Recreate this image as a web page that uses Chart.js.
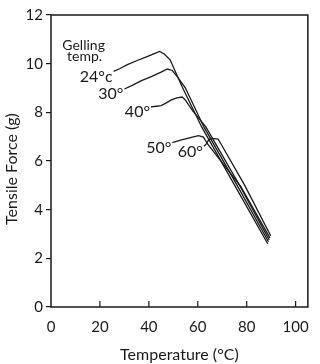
<!DOCTYPE html>
<html>
<head>
<meta charset="utf-8">
<script src="https://cdn.jsdelivr.net/npm/chart.js@4"></script>
<style>
  html, body { margin: 0; padding: 0; background: #fff; }
  #wrap { width: 320px; height: 364px; position: relative; }
</style>
</head>
<body>
<div id="wrap"><canvas id="c"></canvas></div>
<script>
// ---- data ----
const seriesLabels = ['24°c', '30°', '40°', '50°', '60°'];
const temp24  = [25.6, 28, 31, 35, 39, 42, 44.4, 46.3, 48.7, 53.6, 61.6, 75.1, 88.6];
const force24 = [9.68, 9.79, 9.95, 10.12, 10.28, 10.4, 10.5, 10.4, 10.16, 9.05, 7.4, 5.0, 2.6];
const temp30  = [30, 33, 37, 41, 45, 47.6, 49.6, 51.6, 54.9, 62.5, 76.1, 88.9];
const force30 = [8.96, 9.1, 9.3, 9.47, 9.65, 9.78, 9.72, 9.47, 9.01, 7.4, 5.0, 2.68];
const temp40  = [40.9, 43, 45, 47, 49, 51.5, 53.6, 54.7, 58, 63.3, 77.1, 89.2];
const force40 = [8.22, 8.25, 8.28, 8.38, 8.5, 8.59, 8.63, 8.53, 8.05, 7.4, 5.0, 2.76];
const temp50  = [49.6, 53, 57, 60.3, 62.3, 64, 77.6, 89.5];
const force50 = [6.76, 6.86, 6.96, 7.04, 6.98, 6.7, 4.95, 2.84];
const temp60  = [62.5, 63.5, 64.5, 65.5, 68.3, 69.5, 79.2, 89.8];
const force60 = [6.6, 6.7, 6.88, 6.93, 6.9, 6.7, 5.0, 2.93];
const xTickValues = [0, 20, 40, 60, 80, 100];
const yTickValues = [0, 2, 4, 6, 8, 10, 12];
const noteLines = ['Gelling', 'temp.'];
const xTitle = 'Temperature (°C)';
const yTitle = 'Tensile Force (g)';

const temps = [temp24, temp30, temp40, temp50, temp60];
const forces = [force24, force30, force40, force50, force60];

const FONT = 'Lato, "DejaVu Sans", sans-serif';
const INK = '#1a1a1a';

const datasets = seriesLabels.map((lab, i) => ({
  label: lab,
  data: temps[i].map((t, k) => ({ x: t, y: forces[i][k] })),
  borderColor: INK,
  borderWidth: 1.3,
  pointRadius: 0,
  fill: false,
  tension: 0
}));

const framePlugin = {
  id: 'frame',
  afterDatasetsDraw(chart) {
    const ctx = chart.ctx;
    const a = chart.chartArea;
    const xs = chart.scales.x;
    ctx.save();
    ctx.strokeStyle = INK;
    ctx.lineWidth = 1.5;
    ctx.strokeRect(a.left, a.top, a.right - a.left, a.bottom - a.top);
    // inward x ticks
    ctx.lineWidth = 1.2;
    xs.ticks.forEach(t => {
      if (t.value === xs.min) return;
      const px = xs.getPixelForValue(t.value);
      ctx.beginPath();
      ctx.moveTo(px, a.bottom);
      ctx.lineTo(px, a.bottom - 6);
      ctx.stroke();
    });
    // series labels next to the start of each curve
    ctx.fillStyle = INK;
    ctx.textBaseline = 'middle';
    ctx.textAlign = 'right';
    ctx.font = '16px ' + FONT;
    chart.data.datasets.forEach((ds, i) => {
      const p = chart.getDatasetMeta(i).data[0];
      ctx.fillText(ds.label, p.x - 1, p.y + 5);
    });
    // "Gelling temp." note above the 24° label
    const p0 = chart.getDatasetMeta(0).data[0];
    ctx.textAlign = 'center';
    ctx.font = '14px ' + FONT;
    ctx.fillText(noteLines[0], p0.x - 30, p0.y - 26);
    ctx.fillText(noteLines[1], p0.x - 29, p0.y - 15);
    // y axis title (sits a little below the axis centre in the reference)
    ctx.font = '16px ' + FONT;
    ctx.translate(12, (a.top + a.bottom) / 2 + 8);
    ctx.rotate(-Math.PI / 2);
    ctx.textAlign = 'center';
    ctx.textBaseline = 'middle';
    ctx.fillText(yTitle, 0, 0);
    ctx.restore();
  }
};

new Chart(document.getElementById('c'), {
  type: 'line',
  data: { datasets },
  options: {
    responsive: true,
    maintainAspectRatio: false,
    animation: false,
    layout: { padding: { left: 0, right: 7, top: 15, bottom: 0 } },
    plugins: { legend: { display: false }, tooltip: { enabled: false } },
    scales: {
      x: {
        type: 'linear',
        min: 0,
        max: 105,
        afterBuildTicks: s => { s.ticks = xTickValues.map(v => ({ value: v })); },
        afterFit: s => { s.height = 57; },
        border: { display: false },
        grid: { drawOnChartArea: false, drawTicks: false },
        ticks: { color: INK, font: { family: FONT, size: 15 }, padding: 11, maxRotation: 0 },
        title: { display: true, text: xTitle, color: INK, font: { family: FONT, size: 16 }, padding: { top: 0, bottom: 0 } }
      },
      y: {
        type: 'linear',
        min: 0,
        max: 12,
        afterBuildTicks: s => { s.ticks = yTickValues.map(v => ({ value: v })); },
        afterFit: s => { s.width = 51; },
        border: { display: false },
        grid: { drawOnChartArea: false, drawTicks: true, tickLength: 5, color: INK, lineWidth: 1.2 },
        ticks: { color: INK, font: { family: FONT, size: 15 }, padding: 3 },
        title: { display: false, text: yTitle }
      }
    }
  },
  plugins: [framePlugin]
});
</script>
</body>
</html>
